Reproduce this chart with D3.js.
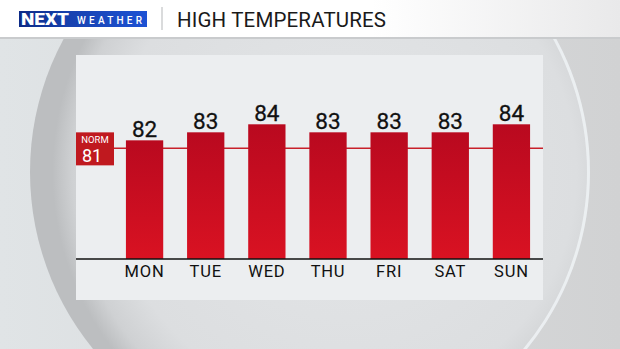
<!DOCTYPE html>
<html>
<head>
<meta charset="utf-8">
<script src="https://cdn.jsdelivr.net/npm/d3@7"></script>
<style>
  html, body { margin: 0; padding: 0; overflow: hidden; }
  body { width: 620px; height: 349px; }
  text { font-family: Roboto, "Open Sans", sans-serif; }
</style>
</head>
<body>
<div id="chart"></div>
<script>
// chart data
const days = ['MON', 'TUE', 'WED', 'THU', 'FRI', 'SAT', 'SUN'];
const highs = [82, 83, 84, 83, 83, 83, 84];
const normal = 81;
const title = 'HIGH TEMPERATURES';

const width = 620, height = 349;

const svg = d3.select('#chart')
  .append('svg')
  .attr('width', width)
  .attr('height', height);

const defs = svg.append('defs');

// background gradients
const bg = defs.append('linearGradient').attr('id', 'bg').attr('x1', 0).attr('x2', 1).attr('y1', 0).attr('y2', 0);
bg.append('stop').attr('offset', 0).attr('stop-color', '#e0e4e6');
bg.append('stop').attr('offset', 0.5).attr('stop-color', '#d9dbdd');
bg.append('stop').attr('offset', 1).attr('stop-color', '#d1d2d3');

const disc = defs.append('radialGradient').attr('id', 'disc')
  .attr('cx', 0.56).attr('cy', 0.5).attr('r', 0.52);
disc.append('stop').attr('offset', 0).attr('stop-color', '#e4e6e8');
disc.append('stop').attr('offset', 0.8).attr('stop-color', '#dcdee0');
disc.append('stop').attr('offset', 0.93).attr('stop-color', '#cfd1d3');
disc.append('stop').attr('offset', 1).attr('stop-color', '#bcbec0');

const barGrad = defs.append('linearGradient').attr('id', 'bar').attr('x1', 0).attr('x2', 0).attr('y1', 0).attr('y2', 1);
barGrad.append('stop').attr('offset', 0).attr('stop-color', '#b9091f');
barGrad.append('stop').attr('offset', 1).attr('stop-color', '#d91222');

const head = defs.append('linearGradient').attr('id', 'head').attr('x1', 0).attr('x2', 1).attr('y1', 0).attr('y2', 0);
head.append('stop').attr('offset', 0).attr('stop-color', '#ffffff');
head.append('stop').attr('offset', 0.6).attr('stop-color', '#ffffff');
head.append('stop').attr('offset', 1).attr('stop-color', '#e9e9ea');

const logo = defs.append('linearGradient').attr('id', 'logo').attr('x1', 0).attr('x2', 1).attr('y1', 0).attr('y2', 0);
logo.append('stop').attr('offset', 0).attr('stop-color', '#0c2a86');
logo.append('stop').attr('offset', 0.4).attr('stop-color', '#1742b0');
logo.append('stop').attr('offset', 1).attr('stop-color', '#1d52d4');

svg.append('rect').attr('width', width).attr('height', height).attr('fill', 'url(#bg)');

// big disc behind the panel
svg.append('circle')
  .attr('cx', 310).attr('cy', 172).attr('r', 280)
  .attr('fill', 'url(#disc)');
// light rim on the right side
svg.append('path')
  .attr('transform', 'translate(310,172)')
  .attr('d', d3.arc()({ innerRadius: 277, outerRadius: 280, startAngle: 1.0, endAngle: 2.3 }))
  .attr('fill', 'rgba(240,244,246,0.8)');

// header
svg.append('rect').attr('width', width).attr('height', 38).attr('fill', 'url(#head)');
svg.append('rect').attr('y', 37).attr('width', width).attr('height', 2).attr('fill', '#c9cbcd');

svg.append('rect').attr('x', 19).attr('y', 11).attr('width', 128).attr('height', 16).attr('fill', 'url(#logo)');
svg.append('text').attr('x', 21).attr('y', 25)
  .attr('fill', '#fff').attr('font-size', 16).attr('font-weight', 900)
  .attr('textLength', 48).attr('lengthAdjust', 'spacingAndGlyphs')
  .text('NEXT');
svg.append('text').attr('x', 77).attr('y', 23.5)
  .attr('fill', '#fff').attr('font-size', 10).attr('font-weight', 500)
  .attr('textLength', 65)
  .text('WEATHER');

svg.append('line').attr('x1', 162).attr('x2', 162).attr('y1', 7).attr('y2', 30)
  .attr('stroke', '#b5b7b9').attr('stroke-width', 1);
svg.append('text').attr('x', 177).attr('y', 27)
  .attr('fill', '#1a1a1a').attr('font-size', 20.5).attr('font-weight', 400)
  .attr('textLength', 209)
  .text(title);

// chart panel
const panel = { left: 76, right: 543, top: 55, bottom: 300 };
svg.append('rect')
  .attr('x', panel.left).attr('y', panel.top)
  .attr('width', panel.right - panel.left).attr('height', panel.bottom - panel.top)
  .attr('fill', '#eceef0');

const x = d3.scaleBand()
  .domain(days)
  .range([114, 542])
  .paddingInner(0.39)
  .paddingOuter(0.195);

const y = d3.scaleLinear()
  .domain([67.2, 84])
  .range([259, 124.3]);

const g = svg.append('g');

// norm line
g.append('line')
  .attr('x1', 114).attr('x2', panel.right)
  .attr('y1', y(normal)).attr('y2', y(normal))
  .attr('stroke', '#c8202a').attr('stroke-width', 1.5);

g.selectAll('rect.bar')
  .data(highs)
  .enter()
  .append('rect')
  .attr('class', 'bar')
  .attr('x', (d, i) => x(days[i]))
  .attr('y', d => y(d))
  .attr('width', x.bandwidth())
  .attr('height', d => y.range()[0] - y(d))
  .attr('fill', 'url(#bar)');

g.selectAll('text.val')
  .data(highs)
  .enter()
  .append('text')
  .attr('class', 'val')
  .attr('x', (d, i) => x(days[i]) + x.bandwidth() / 2)
  .attr('y', d => y(d) - 3)
  .attr('text-anchor', 'middle')
  .attr('font-size', 22.5)
  .attr('font-weight', 400)
  .attr('stroke', '#111')
  .attr('stroke-width', 0.3)
  .attr('fill', '#111')
  .text(d => d);

// baseline + day axis
const xAxis = d3.axisBottom(x).tickSize(0).tickPadding(5);
const ax = g.append('g')
  .attr('transform', `translate(0,${y.range()[0]})`)
  .call(xAxis);
ax.select('.domain').remove();
ax.selectAll('text')
  .attr('font-size', 16.5)
  .attr('font-weight', 400)
  .attr('font-family', 'Roboto, sans-serif')
  .attr('letter-spacing', 0.8)
  .attr('fill', '#111')
  .attr('dy', '0.8em');
g.append('line')
  .attr('x1', panel.left).attr('x2', panel.right)
  .attr('y1', y.range()[0]).attr('y2', y.range()[0])
  .attr('stroke', '#111').attr('stroke-width', 1.5);

// norm badge
const ny = y(normal);
g.append('rect')
  .attr('x', panel.left).attr('y', ny - 16)
  .attr('width', 38).attr('height', 33)
  .attr('fill', '#c0191f');
g.append('text')
  .attr('x', panel.left + 19).attr('y', ny - 5)
  .attr('text-anchor', 'middle')
  .attr('font-size', 9.5).attr('font-weight', 400)
  .attr('fill', '#fff')
  .text('NORM');
g.append('text')
  .attr('x', panel.left + 16).attr('y', ny + 14)
  .attr('text-anchor', 'middle')
  .attr('font-size', 18)
  .attr('fill', '#fff')
  .text(normal);
</script>
</body>
</html>
